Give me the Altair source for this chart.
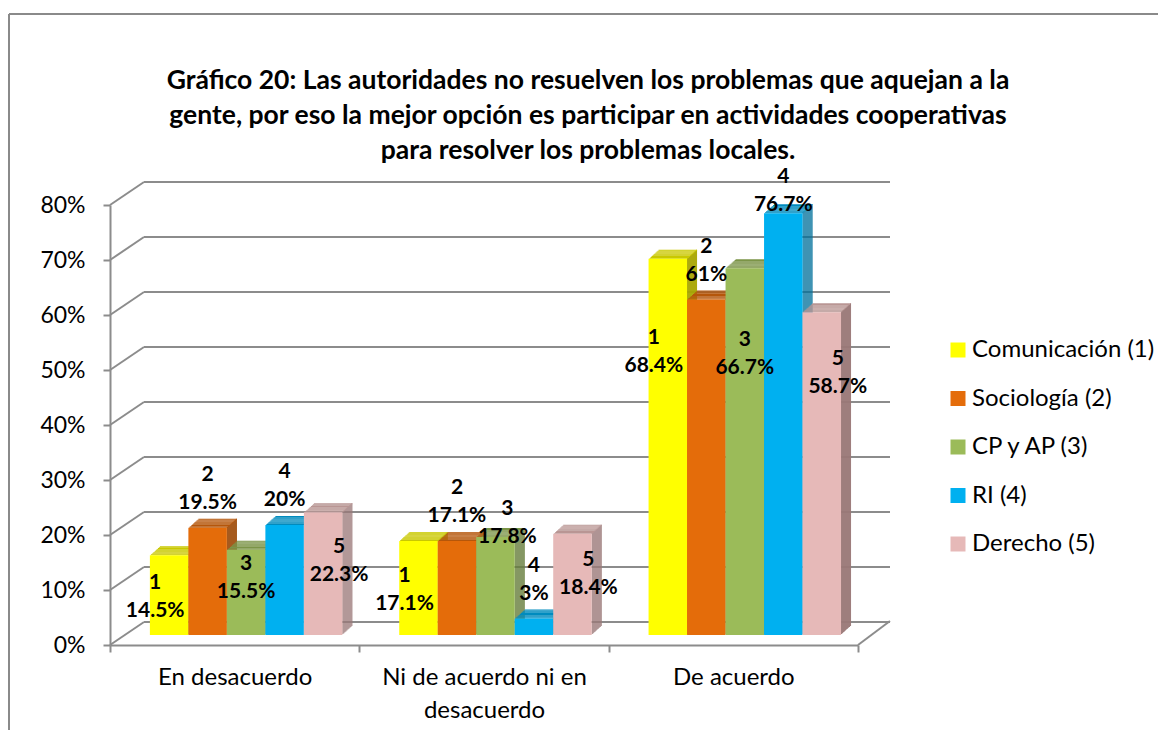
import altair as alt
import pandas as pd

# ---------------- data ----------------
categories = ["En desacuerdo", "Ni de acuerdo ni en desacuerdo", "De acuerdo"]
category_lines = [["En desacuerdo"], ["Ni de acuerdo ni en", "desacuerdo"], ["De acuerdo"]]
series = ["Comunicación (1)", "Sociología (2)", "CP y AP (3)", "RI (4)", "Derecho (5)"]
series_num = ["1", "2", "3", "4", "5"]
comunicacion = [14.5, 17.1, 68.4]
sociologia = [19.5, 17.1, 61.0]
cp_ap = [15.5, 17.8, 66.7]
ri = [20.0, 3.0, 76.7]
derecho = [22.3, 18.4, 58.7]
y_ticks = [0, 10, 20, 30, 40, 50, 60, 70, 80]
title_lines = [
    "Gráfico 20: Las autoridades no resuelven los problemas que aquejan a la",
    "gente, por eso la mejor opción es participar en actividades cooperativas",
    "para resolver los problemas locales.",
]

# ---------------- style ----------------
front_colors = ["#FFFF00", "#E46C0A", "#9BBB59", "#00B0F0", "#E6B9B8"]
top_colors = ["#C9C800", "#B5560A", "#7B9447", "#008BBE", "#B99694"]
side_colors = ["#A8A600", "#9C4906", "#677D3B", "#00709A", "#9A7978"]
FONT = "Lato"
GRID = "#8C8C8C"
GROUP_PAD = 0.8
BAR_W = 0.772
DEPTH_X, DEPTH_Y = 10.0, -9.0
BASE_OFF = -10.0
STEPS = 10
LINE_H = 28
# label placement inside the bars (per series): drop = min(frac * v, cap)
label_frac = [0.52, 0.0, 0.33, 0.0, 0.40]
label_cap = [17.0, 0.0, 15.6, 0.0, 11.0]
label_shift = [-0.28, 0.0, 0.0, 0.0, 0.32]

values = [comunicacion, sociologia, cp_ap, ri, derecho]
rows = []
for c, cat in enumerate(categories):
    for s, name in enumerate(series):
        v = values[s][c]
        nxt = values[s + 1][c] if s + 1 < len(series) else v
        x0 = 5 * c + GROUP_PAD + s * BAR_W
        rows.append({
            "category": cat, "series": name, "s": s, "v": v, "next_v": nxt,
            "x0": x0, "x1": x0 + BAR_W, "xc": x0 + BAR_W / 2,
            "top": top_colors[s], "side": side_colors[s],
            "frac": label_frac[s], "cap": label_cap[s], "shift": label_shift[s],
            "label": f"{series_num[s]}\n{v:g}%",
        })
df = pd.DataFrame(rows)

xs = alt.Scale(domain=[0, 15], nice=False, zero=False)
ys = alt.Scale(domain=[0, 80], nice=False, zero=True)

ticks_df = pd.DataFrame({"t": y_ticks})

label_js = " : ".join(
    f"datum.value == {5 * i + 2.5} ? [" + ", ".join(f"'{l}'" for l in lines) + "]"
    for i, lines in enumerate(category_lines)
) + " : ''"

x_axis = alt.Axis(
    values=[0, 2.5, 5, 7.5, 10, 12.5, 15], labelExpr=label_js, title=None, grid=False,
    domainColor=GRID, domainWidth=2, tickColor=GRID, tickWidth=2, tickSize=7,
    tickOpacity={"condition": {"test": "datum.value % 5 != 0", "value": 0}, "value": 1},
    labelFont=FONT, labelFontSize=24, labelColor="#000000", labelPadding=13,
    labelLineHeight=33, labelOverlap=False, labelFlush=False, labelBound=False,
    labelLimit=400,
)
y_axis = alt.Axis(
    values=y_ticks, labelExpr="datum.value + '%'", title=None, grid=False,
    domainColor=GRID, domainWidth=2, tickColor=GRID, tickWidth=2, tickSize=7,
    labelFont=FONT, labelFontSize=23, labelColor="#000000", labelPadding=18,
)

# back wall gridlines
back_grid = alt.Chart(ticks_df).mark_rule(
    color=GRID, strokeWidth=2, xOffset=34, x2Offset=32, yOffset=-23
).encode(
    x=alt.datum(0, scale=xs, axis=x_axis), x2=alt.datum(15),
    y=alt.Y("t:Q", scale=ys, axis=y_axis),
)
# left wall diagonals
left_diag = alt.Chart(ticks_df).mark_rule(
    color=GRID, strokeWidth=2, x2Offset=34, y2Offset=-23
).encode(
    x=alt.datum(0, scale=xs), x2=alt.datum(0),
    y=alt.Y("t:Q", scale=ys), y2="t:Q",
)
# floor right diagonal
floor_right = alt.Chart(pd.DataFrame({"t": [0]})).mark_rule(
    color=GRID, strokeWidth=2, x2Offset=32, y2Offset=-24
).encode(
    x=alt.datum(15, scale=xs), x2=alt.datum(15),
    y=alt.Y("t:Q", scale=ys), y2="t:Q",
)

layers = [back_grid, left_diag, floor_right]

# side faces (stepped to form the diagonal)
for k in range(1, STEPS + 1):
    layers.append(
        alt.Chart(df).mark_rect(
            xOffset=DEPTH_X * (k - 1) / STEPS, x2Offset=DEPTH_X * k / STEPS,
            yOffset=BASE_OFF + DEPTH_Y * k / STEPS, y2Offset=BASE_OFF + DEPTH_Y * k / STEPS,
        ).encode(
            x=alt.X("x1:Q", scale=xs), x2="x1:Q",
            y=alt.Y("v:Q", scale=ys), y2=alt.datum(0),
            fill=alt.Fill("side:N", scale=None),
        )
    )
# top faces
for k in range(1, STEPS + 1):
    layers.append(
        alt.Chart(df).mark_rect(
            xOffset=DEPTH_X * k / STEPS, x2Offset=DEPTH_X * k / STEPS,
            yOffset=BASE_OFF + DEPTH_Y * k / STEPS, y2Offset=BASE_OFF + DEPTH_Y * (k - 1) / STEPS,
        ).encode(
            x=alt.X("x0:Q", scale=xs), x2="x1:Q",
            y=alt.Y("v:Q", scale=ys), y2="v:Q",
            fill=alt.Fill("top:N", scale=None),
        )
    )

# front faces
front = alt.Chart(df).mark_rect(yOffset=BASE_OFF, y2Offset=BASE_OFF).encode(
    x=alt.X("x0:Q", scale=xs), x2="x1:Q",
    y=alt.Y("v:Q", scale=ys), y2=alt.datum(0),
    color=alt.Color(
        "series:N", sort=series,
        scale=alt.Scale(domain=series, range=front_colors),
        legend=alt.Legend(
            title=None, orient="none", legendX=836, legendY=133,
            symbolType="square", symbolSize=225, symbolStrokeWidth=0,
            labelFont=FONT, labelFontSize=24, labelColor="#000000",
            labelOffset=2, rowPadding=24.5, padding=0, labelLimit=400,
        ),
    ),
)
layers.append(front)

# data labels: series 2 and 4 above the bar, the others inside
above = alt.Chart(df).transform_filter("datum.s == 1 || datum.s == 3").transform_calculate(
    ly="min(datum.v + 4.5, 78.1)",
).mark_text(
    font=FONT, fontSize=21, fontWeight="bold", color="#000000",
    lineBreak="\n", lineHeight=LINE_H, baseline="middle", dy=BASE_OFF - LINE_H,
).encode(
    x=alt.X("xc:Q", scale=xs), y=alt.Y("ly:Q", scale=ys), text="label:N",
)
# inside labels; when the next bar is much lower the label is lifted to the bar top
inside = alt.Chart(df).transform_filter("datum.s == 0 || datum.s == 2 || datum.s == 4").transform_calculate(
    lifted="datum.next_v < datum.v * 0.5",
).transform_calculate(
    ly="datum.lifted ? datum.v + 2.5 : datum.v - min(datum.v * datum.frac, datum.cap)",
    lx="datum.xc + (datum.lifted ? 0.24 : datum.shift)",
).mark_text(
    font=FONT, fontSize=21, fontWeight="bold", color="#000000",
    lineBreak="\n", lineHeight=LINE_H, baseline="middle", dy=BASE_OFF - LINE_H / 2,
).encode(
    x=alt.X("lx:Q", scale=xs), y=alt.Y("ly:Q", scale=ys), text="label:N",
)
layers += [above, inside]

# outer frame of the chart (top and left edges)
frame_top = alt.Chart(pd.DataFrame({"a": [0]})).mark_rule(color="#8A8A8A", strokeWidth=2).encode(
    x=alt.value(-101), x2=alt.value(1300), y=alt.value(-191)
)
frame_left = alt.Chart(pd.DataFrame({"a": [0]})).mark_rule(color="#8A8A8A", strokeWidth=2).encode(
    x=alt.value(-101), y=alt.value(-191), y2=alt.value(700)
)
layers += [frame_top, frame_left]

chart = alt.layer(*layers).properties(
    width=748, height=440,
    padding={"left": 102, "top": 197, "right": 300, "bottom": 85},
    autosize=alt.AutoSizeParams(type="none"),
    background="#FFFFFF",
    title=alt.TitleParams(
        text=title_lines, font=FONT, fontSize=26.5, fontWeight="bold", color="#000000",
        anchor="middle", dx=104, offset=-151, lineHeight=35,
    ),
).configure_view(stroke=None)

chart.save("out.html", embed_options={"renderer": "svg", "actions": False})
